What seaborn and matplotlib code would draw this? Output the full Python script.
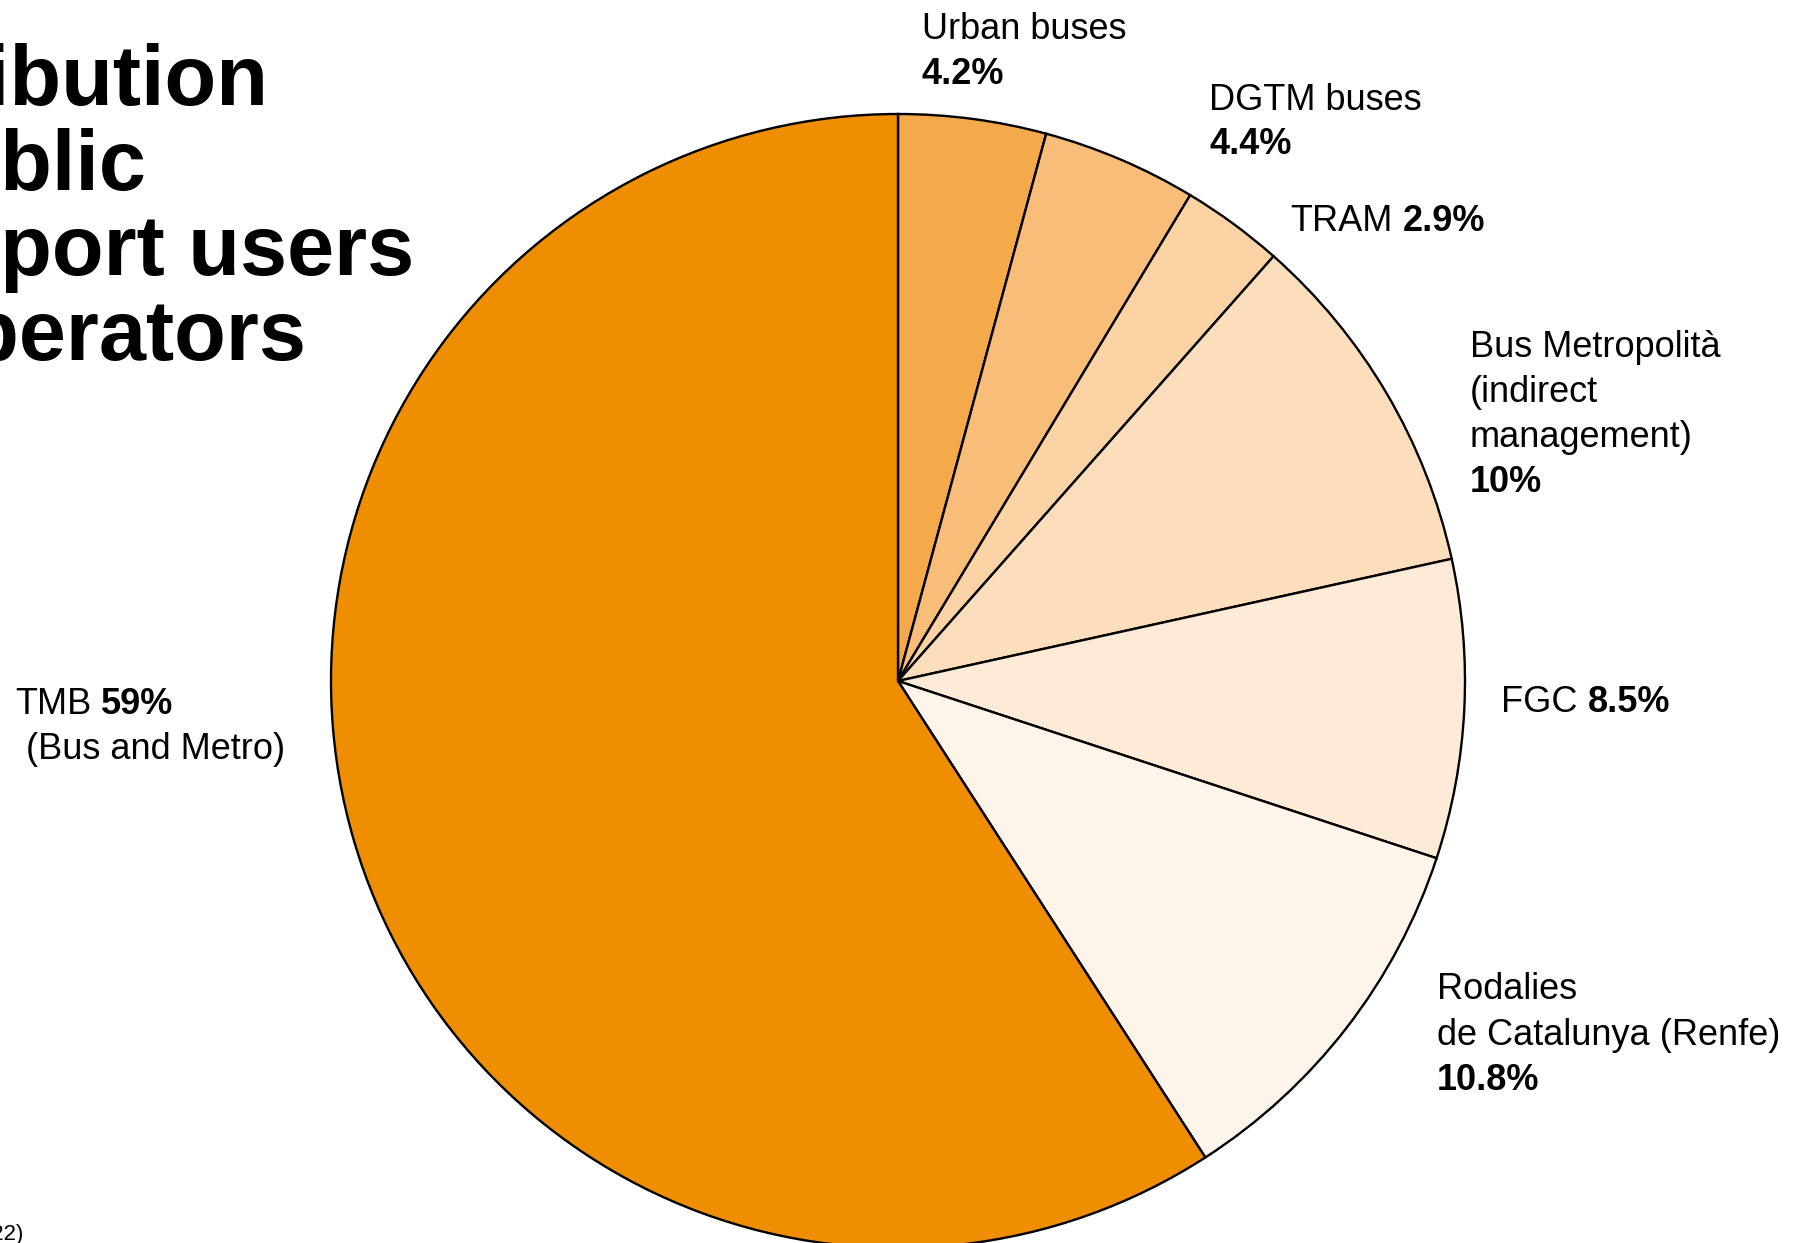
import matplotlib
matplotlib.use("Agg")
import matplotlib.pyplot as plt
import seaborn as sns

# ---- data ----
operators = ["Urban buses", "DGTM buses", "TRAM",
             "Bus Metropolità (indirect management)", "FGC",
             "Rodalies de Catalunya (Renfe)", "TMB (Bus and Metro)"]
shares = [4.2, 4.4, 2.9, 10.0, 8.5, 10.8, 59.0]
share_labels = ["4.2%", "4.4%", "2.9%", "10%", "8.5%", "10.8%", "59%"]
slice_colors = ["#F4A94B", "#F8BD79", "#FBD3A4", "#FCDEBC", "#FDEAD7", "#FDF5EA", "#EF8E00"]
title_lines = ["Distribution", "of public", "transport users", "by operators"]
footnote = "(2022)"

sns.set_style("white")
plt.rcParams["font.family"] = ["Liberation Sans", "DejaVu Sans"]

W, H = 1800, 1243
fig = plt.figure(figsize=(W / 100, H / 100), dpi=100)
ax = fig.add_axes([0, 0, 1, 1])
ax.set_xlim(0, W)
ax.set_ylim(0, H)
ax.set_aspect("equal")
ax.axis("off")

cx, cy, r = 898, H - 681, 567
ax.pie(shares, colors=slice_colors, startangle=90, counterclock=False,
       center=(cx, cy), radius=r, normalize=True,
       wedgeprops=dict(edgecolor="black", linewidth=1.7))
ax.set_xlim(0, W)
ax.set_ylim(0, H)

FS = 26
SPACE_PT = 0.278 * FS


def line(x, ytop, parts):
    """parts: list of (text, weight). ytop = baseline in pixel coords from top."""
    prev = None
    for s, w in parts:
        if prev is None:
            prev = ax.text(x, H - ytop, s, fontsize=FS, fontweight=w,
                           ha="left", va="baseline", color="black")
        else:
            prev = ax.annotate(s, xy=(1, 0), xycoords=prev,
                               xytext=(SPACE_PT, 0), textcoords="offset points",
                               fontsize=FS, fontweight=w, ha="left", va="bottom",
                               color="black")
    return prev


# Labels
line(922, 39, [("Urban buses", "normal")])
line(922, 84, [(share_labels[0], "bold")])
line(1209, 110, [("DGTM buses", "normal")])
line(1209, 154, [(share_labels[1], "bold")])
line(1290, 231, [("TRAM", "normal"), (share_labels[2], "bold")])
line(1470, 357, [("Bus Metropolità", "normal")])
line(1470, 402, [("(indirect", "normal")])
line(1470, 447, [("management)", "normal")])
line(1470, 492, [(share_labels[3], "bold")])
line(1501, 712, [("FGC", "normal"), (share_labels[4], "bold")])
line(1437, 999, [("Rodalies", "normal")])
line(1437, 1045, [("de Catalunya (Renfe)", "normal")])
line(1437, 1090, [(share_labels[5], "bold")])
line(15, 714, [("TMB", "normal"), (share_labels[6], "bold")])
line(26, 759, [("(Bus and Metro)", "normal")])

# Title (partly off-canvas on the left)
for i, t in enumerate(title_lines):
    ax.text(-207, H - (105 + 85 * i), t, fontsize=61, fontweight="bold",
            ha="left", va="baseline", color="black")

# Footnote tail
ax.text(24, H - 1240, footnote, fontsize=16, ha="right", va="baseline", color="black")

fig.savefig("out.png", dpi=100)
